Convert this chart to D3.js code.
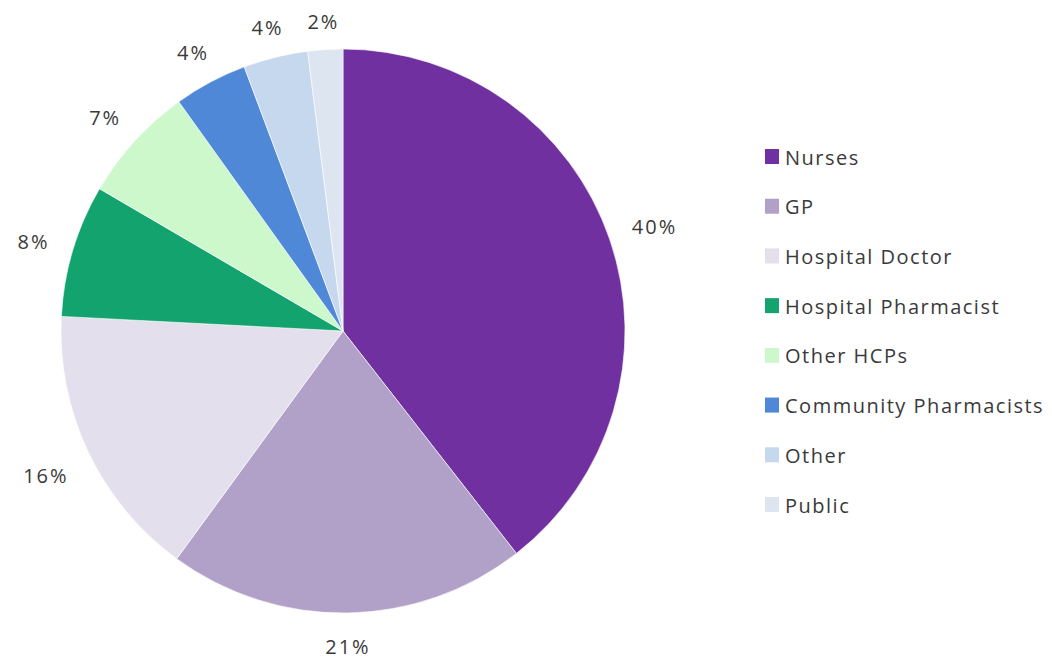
<!DOCTYPE html>
<html><head><meta charset="utf-8">
<script src="https://cdn.jsdelivr.net/npm/d3@7"></script>
<style>html,body{margin:0;padding:0;background:#fff;}svg{display:block;}</style>
</head><body>
<script>
const categories = ["Nurses","GP","Hospital Doctor","Hospital Pharmacist","Other HCPs","Community Pharmacists","Other","Public"];
const values = [39.5, 20.6, 15.8, 7.6, 6.7, 4.2, 3.7, 2.0];
const colors = ["#7030a0","#b1a0c7","#e4dfec","#13a36e","#ccf8cc","#4f88d6","#c6d8ee","#dde5f0"];

const W = 1052, H = 660;
const cx = 343, cy = 331, r = 282;
const svg = d3.select("body").append("svg").attr("width", W).attr("height", H);
svg.append("rect").attr("width", W).attr("height", H).attr("fill", "#fff");

const data = categories.map((c,i)=>({cat:c, value:values[i], color:colors[i]}));
const pie = d3.pie().value(d=>d.value).sort(null);
const arcs = pie(data);
const arc = d3.arc().innerRadius(0).outerRadius(r);
const g = svg.append("g").attr("transform",`translate(${cx},${cy})`);
g.selectAll("path").data(arcs).join("path")
  .attr("d", arc).attr("fill", d=>d.data.color)
  .attr("stroke","#fff").attr("stroke-width",0.6);

const fontFam = "'Open Sans', sans-serif";
const gap = 24;
const lbl = g.selectAll("text.lbl").data(arcs).join("text").attr("class","lbl")
  .attr("font-family", fontFam).attr("font-size", 20).attr("letter-spacing", 2).attr("fill","#3a3a3a")
  .attr("text-anchor","middle").attr("dominant-baseline","central")
  .text(d=>Math.round(d.data.value)+"%");
lbl.each(function(d){
  const bb = this.getBBox();
  const a = (d.startAngle + d.endAngle)/2;
  const ux = Math.sin(a), uy = -Math.cos(a);
  const dist = r + gap + Math.abs(ux)*bb.width/2 + Math.abs(uy)*6;
  d3.select(this).attr("x", dist*ux).attr("y", dist*uy + 3);
});

const leg = svg.append("g").attr("transform","translate(765,0)");
const rowY = d3.scalePoint().domain(categories).range([157, 505]);
const items = leg.selectAll("g").data(data).join("g")
  .attr("transform", d=>`translate(0,${rowY(d.cat)})`);
items.append("rect").attr("x",0).attr("y",-8).attr("width",14).attr("height",15).attr("fill",d=>d.color);
items.append("text").attr("x",20).attr("y",0).attr("dominant-baseline","central")
  .attr("font-family", fontFam).attr("font-size",20).attr("letter-spacing",1.5).attr("fill","#3a3a3a")
  .text(d=>d.cat);
</script>
</body></html>
